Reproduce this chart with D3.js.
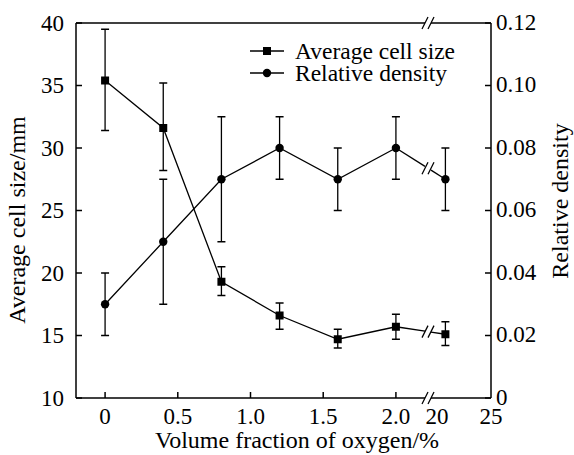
<!DOCTYPE html>
<html>
<head>
<meta charset="utf-8">
<script src="https://cdn.jsdelivr.net/npm/d3@7"></script>
<style>
  body { margin: 0; background: #fff; }
</style>
</head>
<body>
<svg width="574" height="455"></svg>
<script>
const oxygen = [0, 0.4, 0.8, 1.2, 1.6, 2.0, 21];
const cellSize = [35.4, 31.6, 19.3, 16.6, 14.7, 15.7, 15.1];
const cellLo = [31.4, 28.2, 18.2, 15.5, 14.0, 14.7, 14.2];
const cellHi = [39.5, 35.2, 20.5, 17.6, 15.5, 16.7, 16.1];
const density = [0.03, 0.05, 0.07, 0.08, 0.07, 0.08, 0.07];
const densLo = [0.02, 0.03, 0.05, 0.07, 0.06, 0.07, 0.06];
const densHi = [0.04, 0.07, 0.09, 0.09, 0.08, 0.09, 0.08];
const xTicks = [0, 0.5, 1.0, 1.5, 2.0];
const xTickLabels = ["0", "0.5", "1.0", "1.5", "2.0"];
const xHighLabels = [20, 25];
const leftTicks = [10, 15, 20, 25, 30, 35, 40];
const rightTicks = [0, 0.02, 0.04, 0.06, 0.08, 0.10, 0.12];

const plotL = 76, plotR = 491, plotT = 23, plotB = 398;
const breakX = 428;
const fs = 23;

const svg = d3.select("svg").style("font-family", '"Liberation Serif"');

// broken x axis: two linear pieces
const xLow = d3.scaleLinear().domain([-0.2, 2.2]).range([plotL, 425]);
const xHigh = d3.scaleLinear().domain([20, 25]).range([434, plotR]);
const x = v => v <= 2.2 ? xLow(v) : xHigh(v);

const yL = d3.scaleLinear().domain([10, 40]).range([plotB, plotT]);
const yR = d3.scaleLinear().domain([0, 0.12]).range([plotB, plotT]);

// frame, with gaps at the break on top and bottom
const frame = svg.append("g").attr("stroke", "#000").attr("stroke-width", 1.5).attr("fill", "none");
frame.append("line").attr("x1", plotL).attr("x2", plotL).attr("y1", plotT).attr("y2", plotB);
frame.append("line").attr("x1", plotR).attr("x2", plotR).attr("y1", plotT).attr("y2", plotB);
[plotT, plotB].forEach(yy => {
  frame.append("line").attr("x1", plotL).attr("x2", breakX - 3).attr("y1", yy).attr("y2", yy);
  frame.append("line").attr("x1", breakX + 3).attr("x2", plotR).attr("y1", yy).attr("y2", yy);
});

function slashes(g, cx, cy) {
  [-3, 3].forEach(dx => {
    g.append("line")
      .attr("x1", cx + dx - 3).attr("y1", cy + 6)
      .attr("x2", cx + dx + 3).attr("y2", cy - 6)
      .attr("stroke", "#000").attr("stroke-width", 1.3);
  });
}
slashes(svg, breakX, plotT);
slashes(svg, breakX, plotB);

const ga = svg.append("g");
// left axis ticks (inward)
leftTicks.forEach(t => {
  ga.append("line").attr("x1", plotL).attr("x2", plotL + 6).attr("y1", yL(t)).attr("y2", yL(t))
    .attr("stroke", "#000").attr("stroke-width", 1.5);
  ga.append("text").attr("x", plotL - 12).attr("y", yL(t)).attr("dy", "0.34em")
    .attr("text-anchor", "end").attr("font-size", fs).text(t);
});

// right axis ticks (inward)
rightTicks.forEach(t => {
  ga.append("line").attr("x1", plotR).attr("x2", plotR - 6).attr("y1", yR(t)).attr("y2", yR(t))
    .attr("stroke", "#000").attr("stroke-width", 1.5);
  ga.append("text").attr("x", plotR + 5).attr("y", yR(t)).attr("dy", "0.3em")
    .attr("text-anchor", "start").attr("font-size", fs).text(t === 0 ? "0" : t.toFixed(2));
});

// bottom ticks
xTicks.forEach((t, i) => {
  ga.append("line").attr("x1", x(t)).attr("x2", x(t)).attr("y1", plotB).attr("y2", plotB - 6)
    .attr("stroke", "#000").attr("stroke-width", 1.5);
  ga.append("text").attr("x", x(t)).attr("y", plotB + 26)
    .attr("text-anchor", "middle").attr("font-size", fs).text(xTickLabels[i]);
});
xHighLabels.forEach(t => {
  ga.append("text").attr("x", x(t) + (t === 20 ? 3 : 0)).attr("y", plotB + 26)
    .attr("text-anchor", "middle").attr("font-size", fs).text(t);
});

// axis titles
svg.append("text").attr("x", 297).attr("y", 448)
  .attr("text-anchor", "middle").attr("font-size", 24).text("Volume fraction of oxygen/%");
svg.append("text").attr("transform", "translate(25,220) rotate(-90)")
  .attr("text-anchor", "middle").attr("font-size", 24).text("Average cell size/mm");
svg.append("text").attr("transform", "translate(568,201) rotate(-90)")
  .attr("text-anchor", "middle").attr("font-size", 24).text("Relative density");

// series lines, with a break between 2.0 and 21
function drawSeries(vals, lo, hi, y, shape) {
  const g = svg.append("g");
  const pts = oxygen.map((o, i) => [x(o), y(vals[i])]);
  g.append("path").attr("d", d3.line()(pts.slice(0, 6)))
    .attr("fill", "none").attr("stroke", "#000").attr("stroke-width", 1.3);
  // broken segment
  const [p0, p1] = [pts[5], pts[6]];
  const yAt = xx => p0[1] + (p1[1] - p0[1]) * (xx - p0[0]) / (p1[0] - p0[0]);
  g.append("line").attr("x1", p0[0]).attr("y1", p0[1]).attr("x2", breakX - 3).attr("y2", yAt(breakX - 3))
    .attr("stroke", "#000").attr("stroke-width", 1.3);
  g.append("line").attr("x1", breakX + 3).attr("y1", yAt(breakX + 3)).attr("x2", p1[0]).attr("y2", p1[1])
    .attr("stroke", "#000").attr("stroke-width", 1.3);
  slashes(g, breakX, yAt(breakX));

  // error bars
  oxygen.forEach((o, i) => {
    const cx = x(o);
    g.append("line").attr("x1", cx).attr("x2", cx).attr("y1", y(lo[i])).attr("y2", y(hi[i]))
      .attr("stroke", "#000").attr("stroke-width", 1.3);
    [lo[i], hi[i]].forEach(v => {
      g.append("line").attr("x1", cx - 4).attr("x2", cx + 4).attr("y1", y(v)).attr("y2", y(v))
        .attr("stroke", "#000").attr("stroke-width", 1.5);
    });
  });

  // markers
  pts.forEach(p => {
    if (shape === "square") {
      g.append("rect").attr("x", p[0] - 4).attr("y", p[1] - 4).attr("width", 8).attr("height", 8).attr("fill", "#000");
    } else {
      g.append("circle").attr("cx", p[0]).attr("cy", p[1]).attr("r", 4.2).attr("fill", "#000");
    }
  });
}

drawSeries(cellSize, cellLo, cellHi, yL, "square");
drawSeries(density, densLo, densHi, yR, "circle");

// legend
const legend = svg.append("g");
const legendItems = [
  { label: "Average cell size", shape: "square", y: 51 },
  { label: "Relative density", shape: "circle", y: 73 }
];
legendItems.forEach(d => {
  legend.append("line").attr("x1", 250).attr("x2", 284).attr("y1", d.y).attr("y2", d.y)
    .attr("stroke", "#000").attr("stroke-width", 1.3);
  if (d.shape === "square") {
    legend.append("rect").attr("x", 263).attr("y", d.y - 4).attr("width", 8).attr("height", 8).attr("fill", "#000");
  } else {
    legend.append("circle").attr("cx", 267).attr("cy", d.y).attr("r", 4.2).attr("fill", "#000");
  }
  legend.append("text").attr("x", 295).attr("y", d.y).attr("dy", "0.34em")
    .attr("font-size", 23.5).text(d.label);
});
</script>
</body>
</html>
